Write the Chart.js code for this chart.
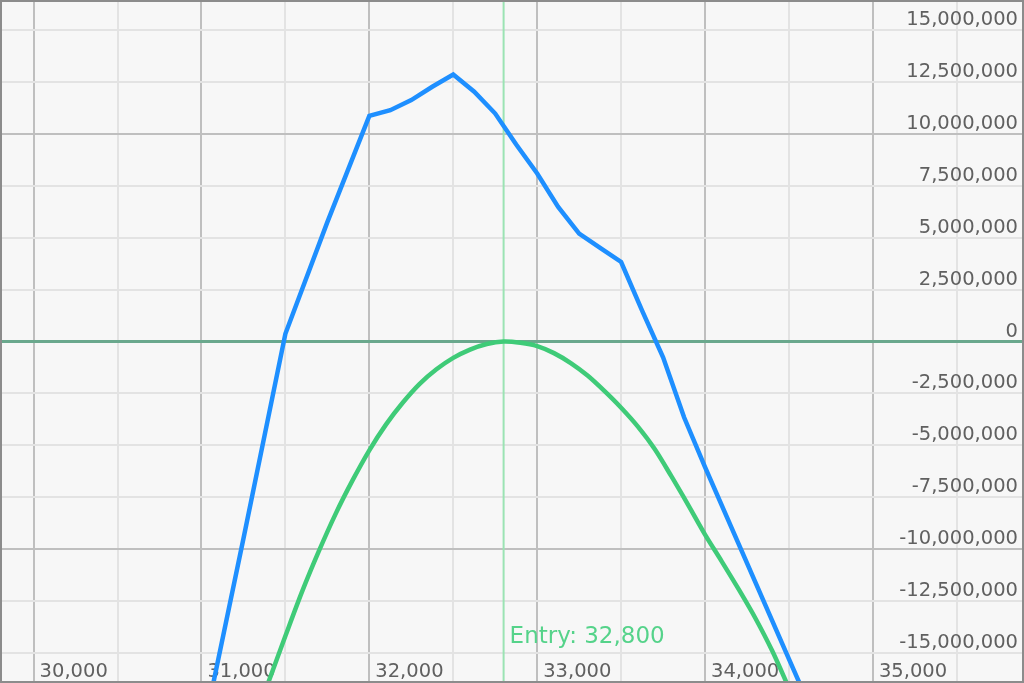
<!DOCTYPE html>
<html>
<head>
<meta charset="utf-8">
<script src="https://cdn.jsdelivr.net/npm/chart.js@4.4.1/dist/chart.umd.min.js"></script>
<style>
  html, body { margin: 0; padding: 0; background: #f7f7f7; }
  #wrap { width: 1024px; height: 683px; }
</style>
</head>
<body>
<div id="wrap"><canvas id="payoffChart" width="1024" height="683"></canvas></div>
<script>
// underlying price range shown
const xMin = 29800;
const xMax = 35900;
const yMin = -16450000;
const yMax = 16450000;

// tick labels
const xTickLabels = [30000, 31000, 32000, 33000, 34000, 35000];
const yTickLabels = [15000000, 12500000, 10000000, 7500000, 5000000, 2500000, 0,
    -2500000, -5000000, -7500000, -10000000, -12500000, -15000000];

const entryPrice = 32800;

// blue: P&L at expiry
const expiryPrices = [31000, 31250, 31500, 31750, 32000, 32125, 32250, 32375, 32500, 32625,
    32750, 32875, 33000, 33125, 33250, 33375, 33500, 33625, 33750, 33875, 34000, 34500, 35000];
const expiryPnl = [-19200000, -9500000, 370000, 5750000, 10870000, 11140000, 11630000, 12270000,
    12860000, 12030000, 10980000, 9490000, 8090000, 6480000, 5200000, 4510000, 3830000, 1490000,
    -760000, -3650000, -6050000, -15300000, -24500000];

// green: P&L today
const todayPrices = [31300, 31400, 31500, 31600, 31700, 31800, 31900, 32000, 32100, 32200,
    32300, 32400, 32500, 32600, 32700, 32800, 32900, 33000, 33100, 33200, 33300, 33400,
    33500, 33600, 33700, 33800, 33900, 34000, 34100, 34200, 34300, 34400, 34500, 34600];
const todayPnl = [-18690000, -16390000, -14190000, -12040000, -10090000, -8290000, -6690000,
    -5240000, -3990000, -2940000, -2040000, -1340000, -790000, -390000, -120000, 0, -60000,
    -220000, -560000, -1040000, -1640000, -2380000, -3190000, -4100000, -5180000, -6500000,
    -7880000, -9300000, -10600000, -11930000, -13330000, -14900000, -16700000, -18500000];

const FONT = '"DejaVu Sans", Verdana, sans-serif';
const fmt = v => v.toLocaleString('en-US');

function stepTicks(scale, step) {
    const ticks = [];
    for (let v = Math.ceil(scale.min / step) * step; v <= scale.max; v += step) {
        ticks.push({ value: v });
    }
    scale.ticks = ticks;
}

const decorPlugin = {
    id: 'decor',
    beforeDraw(chart) {
        const c = chart.ctx;
        c.save();
        c.fillStyle = '#f7f7f7';
        c.fillRect(0, 0, chart.width, chart.height);
        c.restore();
    },
    beforeDatasetsDraw(chart) {
        const c = chart.ctx;
        const x = chart.scales.x;
        const y = chart.scales.y;
        const area = chart.chartArea;

        // entry line
        const ex = x.getPixelForValue(entryPrice);
        c.save();
        c.strokeStyle = '#9be3b3';
        c.lineWidth = 2;
        c.beginPath();
        c.moveTo(ex, area.top);
        c.lineTo(ex, area.bottom);
        c.stroke();

        // zero line
        const zy = y.getPixelForValue(0);
        c.strokeStyle = '#6aa88d';
        c.lineWidth = 3;
        c.beginPath();
        c.moveTo(area.left, zy);
        c.lineTo(area.right, zy);
        c.stroke();

        // tick labels
        c.fillStyle = '#606060';
        c.font = '19.5px ' + FONT;
        c.textBaseline = 'alphabetic';
        c.textAlign = 'right';
        yTickLabels.forEach(v => {
            c.fillText(fmt(v), area.right - 6, y.getPixelForValue(v) - 5);
        });
        c.textAlign = 'left';
        xTickLabels.forEach(v => {
            c.fillText(fmt(v), x.getPixelForValue(v) + 6, area.bottom - 6);
        });

        // entry label
        c.fillStyle = '#55d38a';
        c.font = '23px ' + FONT;
        c.fillText('Entry: ' + fmt(entryPrice), ex + 6, area.bottom - 40);
        c.restore();
    },
    afterDraw(chart) {
        const c = chart.ctx;
        c.save();
        c.strokeStyle = '#8c8c8c';
        c.lineWidth = 2;
        c.strokeRect(1, 1, chart.width - 2, chart.height - 2);
        c.restore();
    }
};

new Chart(document.getElementById('payoffChart'), {
    type: 'line',
    data: {
        datasets: [{
            label: 'Expiry',
            data: expiryPrices.map((p, i) => ({ x: p, y: expiryPnl[i] })),
            borderColor: '#1e8fff',
            borderWidth: 4.5,
            pointRadius: 0,
            tension: 0
        }, {
            label: 'Today',
            data: todayPrices.map((p, i) => ({ x: p, y: todayPnl[i] })),
            borderColor: '#3fcb78',
            borderWidth: 4.5,
            pointRadius: 0,
            tension: 0.3
        }]
    },
    options: {
        responsive: false,
        animation: false,
        layout: { padding: 0 },
        plugins: {
            legend: { display: false },
            tooltip: { enabled: false }
        },
        scales: {
            x: {
                type: 'linear',
                min: xMin,
                max: xMax,
                afterBuildTicks: s => stepTicks(s, 500),
                ticks: { display: false },
                border: { display: false },
                grid: {
                    drawTicks: false,
                    lineWidth: 2,
                    color: ctx => ctx.tick.value % 1000 === 0 ? '#bfbfbf' : '#e3e3e3'
                }
            },
            y: {
                type: 'linear',
                position: 'right',
                min: yMin,
                max: yMax,
                afterBuildTicks: s => stepTicks(s, 2500000),
                ticks: { display: false },
                border: { display: false },
                grid: {
                    drawTicks: false,
                    lineWidth: 2,
                    color: ctx => {
                        const v = ctx.tick.value;
                        if (v === 0) return 'rgba(0,0,0,0)';
                        return v % 10000000 === 0 ? '#bfbfbf' : '#e3e3e3';
                    }
                }
            }
        }
    },
    plugins: [decorPlugin]
});
</script>
</body>
</html>
